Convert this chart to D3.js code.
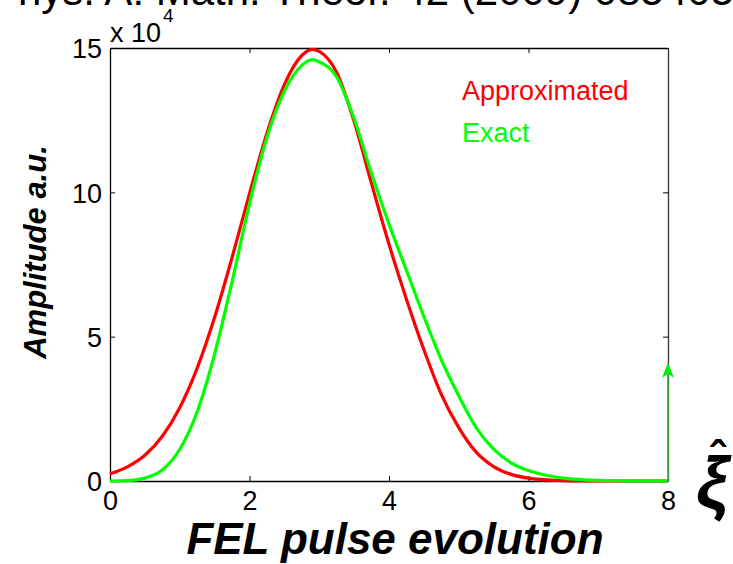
<!DOCTYPE html>
<html>
<head>
<meta charset="utf-8">
<script src="https://cdn.jsdelivr.net/npm/d3@7/dist/d3.min.js"></script>
<style>
  html, body { margin: 0; padding: 0; background: #fff; overflow: hidden; }
  svg { display: block; }
  text { font-family: "Liberation Sans", Arial, Helvetica, sans-serif; }
</style>
</head>
<body>
<svg id="chart" width="733" height="564"></svg>
<script>
// ---- data (amplitude in units of 1e4) ----
const xValues = [0,0.25,0.5,0.75,1,1.25,1.5,1.75,2,2.25,2.5,2.75,2.9,3,3.25,3.5,3.75,4,4.25,4.5,4.75,5,5.25,5.5,5.75,6,6.25,6.5,6.75,7,7.25,7.5,7.75,8];
const approximated = [0.25,0.49,0.89,1.55,2.54,3.91,5.67,7.74,9.95,12.05,13.73,14.74,14.95,14.88,14.15,12.45,10.3,8.2,6.3,4.55,3.0,1.85,1.0,0.5,0.23,0.1,0.04,0.015,0.005,0,0,0,0,0];
const exact = [0,0.01,0.1,0.38,1.1,2.4,4.4,6.9,9.6,11.9,13.5,14.4,14.6,14.52,14.0,12.55,10.65,8.9,7.3,5.7,4.2,2.95,1.85,1.1,0.63,0.36,0.2,0.1,0.05,0.02,0.01,0,0,0];
const seriesNames = ["Approximated", "Exact"];
const xTicks = [0, 2, 4, 6, 8];
const yTicks = [0, 5, 10, 15];
const arrowX = 8, arrowTop = 4.1;
const headerText = "J. Phys. A: Math. Theor. 42 (2009) 085405";

(function () {
// ---- layout ----
const svg = d3.select("#chart");
const L = 110, R = 668, T = 48, B = 481;
const x = d3.scaleLinear().domain([0, 8]).range([L, R]);
const y = d3.scaleLinear().domain([0, 15]).range([B, T]);

// header (clipped at top of figure)
const hdr = svg.append("text").attr("y", 5).attr("font-size", 42).attr("fill", "#000");
hdr.text("J. P");
const prefixLen = hdr.node().getComputedTextLength();
hdr.text(headerText).attr("x", 18 - prefixLen);

// axes box
const tickLen = 5;
const gBottom = svg.append("g").attr("transform", `translate(0,${B})`)
  .call(d3.axisBottom(x).tickValues(xTicks).tickSizeInner(-tickLen).tickSizeOuter(0).tickPadding(10).tickFormat(d3.format("d")));
const gTop = svg.append("g").attr("transform", `translate(0,${T})`)
  .call(d3.axisTop(x).tickValues(xTicks).tickSizeInner(-tickLen).tickSizeOuter(0).tickFormat(""));
const gLeft = svg.append("g").attr("transform", `translate(${L},0)`)
  .call(d3.axisLeft(y).tickValues(yTicks).tickSizeInner(-tickLen).tickSizeOuter(0).tickPadding(8).tickFormat(d3.format("d")));
const gRight = svg.append("g").attr("transform", `translate(${R},0)`)
  .call(d3.axisRight(y).tickValues(yTicks).tickSizeInner(-tickLen).tickSizeOuter(0).tickFormat(""));
[gBottom, gTop, gLeft, gRight].forEach(g => {
  g.select(".domain").attr("stroke", "#000").attr("stroke-width", 1.3);
  g.selectAll(".tick line").attr("stroke", "#000").attr("stroke-width", 1);
  g.selectAll(".tick text").attr("font-size", 27).attr("fill", "#000")
    .attr("font-family", "Liberation Sans, Arial, sans-serif");
});
gRight.select(".domain").attr("stroke", "#333");
gBottom.selectAll(".tick text").attr("dy", "0.71em");
gLeft.selectAll(".tick text").attr("dy", "0.36em");

// exponent label
const expo = svg.append("text").attr("x", 110).attr("y", 42).attr("font-size", 27).attr("fill", "#000");
expo.append("tspan").text("x 10");
expo.append("tspan").attr("font-size", 19).attr("dy", -20).attr("dx", 2).text("4");

// curves
const line = d3.line().x((d, i) => x(xValues[i])).y(d => y(d)).curve(d3.curveMonotoneX);
svg.append("path").datum(approximated).attr("d", line)
  .attr("fill", "none").attr("stroke", "#ff0000").attr("stroke-width", 3.2).attr("stroke-linejoin", "round");
svg.append("path").datum(exact).attr("d", line)
  .attr("fill", "none").attr("stroke", "#00ff00").attr("stroke-width", 3.2).attr("stroke-linejoin", "round");

// arrow at right edge
const ax = x(arrowX);
svg.append("line").attr("x1", ax).attr("x2", ax).attr("y1", y(0)).attr("y2", y(arrowTop) + 4)
  .attr("stroke", "#2db82d").attr("stroke-width", 1.6);
const tipY = y(arrowTop);
svg.append("path")
  .attr("d", `M${ax},${tipY} L${ax - 6},${tipY + 15} L${ax},${tipY + 11} L${ax + 6},${tipY + 15} Z`)
  .attr("fill", "#00ee00");

// legend
svg.append("text").attr("x", 462).attr("y", 100).attr("font-size", 27).attr("fill", "#ff0000").text(seriesNames[0]);
svg.append("text").attr("x", 462).attr("y", 142).attr("font-size", 27).attr("fill", "#00ff00").text(seriesNames[1]);

// axis titles
svg.append("text").attr("x", 395).attr("y", 554).attr("text-anchor", "middle")
  .attr("font-size", 44).attr("font-weight", "bold").attr("font-style", "italic").attr("fill", "#000")
  .text("FEL pulse evolution");
svg.append("text").attr("transform", "translate(46,252) rotate(-90)").attr("text-anchor", "middle")
  .attr("font-size", 31).attr("font-weight", "bold").attr("font-style", "italic").attr("fill", "#000")
  .text("Amplitude a.u.");

// xi-hat symbol at bottom right (clipped)
svg.append("text").attr("x", 696).attr("y", 508).attr("font-size", 72)
  .attr("font-family", "DejaVu Serif, serif").attr("font-style", "italic").attr("font-weight", "bold").attr("fill", "#000")
  .text("ξ");
svg.append("text").attr("x", 710).attr("y", 474).attr("font-size", 46)
  .attr("font-family", "DejaVu Serif, serif").attr("font-weight", "bold").attr("fill", "#000")
  .text("ˆ");
})();
</script>
</body>
</html>
